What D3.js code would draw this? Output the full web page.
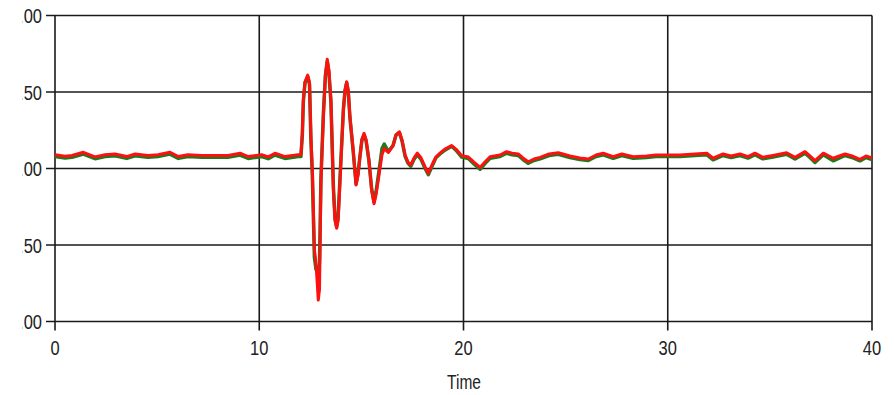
<!DOCTYPE html>
<html>
<head>
<meta charset="utf-8">
<script src="https://cdn.jsdelivr.net/npm/d3@7"></script>
<style>
  body { margin: 0; background: #fff; }
  svg { display: block; }
  text { font-family: "Liberation Sans", Arial, sans-serif; fill: #222; }
</style>
</head>
<body>
<script>
// tick values and labels
var xTicks = [0, 10, 20, 30, 40];
var xTickLabels = ["0", "10", "20", "30", "40"];
var yTicks = [1, 0.5, 0, -0.5, -1];
var yTickLabels = ["1.00", "0.50", "0.00", "-0.50", "-1.00"];

// sample times (s)
var times = [0, 0.49, 0.83, 1.39, 1.96, 2.45, 2.94, 3.51, 3.92, 4.55, 5.04, 5.63, 6.04, 6.51, 7.18, 7.83, 8.47, 9.06, 9.46, 10.12, 10.44, 10.77, 11.26, 11.91, 12.04,
  12.11, 12.16, 12.24, 12.37, 12.46, 12.53, 12.60, 12.70, 12.78, 12.89, 12.95, 13.02, 13.14, 13.24, 13.33, 13.41, 13.51, 13.63, 13.71, 13.79, 13.86, 13.95,
  14.12, 14.20, 14.28, 14.36, 14.44, 14.60, 14.74, 14.84, 14.93, 15.03, 15.13, 15.23, 15.37, 15.50, 15.62, 15.72, 15.91, 16.01, 16.12, 16.32, 16.55, 16.70,
  16.86, 16.99, 17.14, 17.28, 17.42, 17.58, 17.74, 17.92, 18.12, 18.28, 18.46, 18.65, 18.85, 19.09, 19.42, 19.63, 19.91, 20.24, 20.51, 20.81, 21.05, 21.30,
  21.79, 22.11, 22.38, 22.68, 22.91, 23.17, 23.45, 23.75, 24.19, 24.64, 25.21, 25.70, 26.11, 26.49, 26.84, 27.33, 27.75, 28.31, 28.97, 29.42, 29.94, 30.60,
  31.33, 31.91, 32.22, 32.71, 33.10, 33.54, 33.93, 34.27, 34.66, 35.15, 35.82, 36.23, 36.72, 36.96, 37.21, 37.62, 38.10, 38.68, 39.02, 39.41, 39.71, 40.00];

// red series
var redValues = [0.09, 0.08, 0.085, 0.106, 0.076, 0.09, 0.095, 0.078, 0.095, 0.085, 0.09, 0.106, 0.078, 0.09, 0.085, 0.085, 0.085, 0.10, 0.078, 0.09, 0.076, 0.10, 0.078, 0.09, 0.09,
  0.23, 0.45, 0.565, 0.61, 0.565, 0.21, -0.01, -0.53, -0.62, -0.86, -0.79, -0.095, 0.34, 0.61, 0.714, 0.64, 0.45, -0.14, -0.34, -0.39, -0.34, -0.097,
  0.38, 0.51, 0.567, 0.51, 0.34, 0.12, -0.108, -0.04, 0.077, 0.19, 0.23, 0.19, 0.056, -0.14, -0.23, -0.17, 0.0, 0.09, 0.13, 0.105, 0.15, 0.22,
  0.24, 0.186, 0.088, 0.042, 0.023, 0.07, 0.10, 0.07, 0.01, -0.031, 0.023, 0.075, 0.10, 0.127, 0.15, 0.127, 0.084, 0.075, 0.042, 0.007, 0.042, 0.077,
  0.088, 0.11, 0.10, 0.095, 0.069, 0.044, 0.062, 0.073, 0.095, 0.103, 0.082, 0.069, 0.062, 0.088, 0.10, 0.077, 0.095, 0.077, 0.082, 0.088, 0.088, 0.088,
  0.095, 0.10, 0.067, 0.095, 0.082, 0.095, 0.078, 0.10, 0.073, 0.085, 0.103, 0.073, 0.11, 0.082, 0.051, 0.10, 0.067, 0.095, 0.082, 0.06, 0.082, 0.069];

// green series
var greenValues = [0.078, 0.068, 0.073, 0.094, 0.064, 0.078, 0.083, 0.066, 0.083, 0.073, 0.078, 0.094, 0.066, 0.078, 0.073, 0.073, 0.073, 0.088, 0.066, 0.078, 0.064, 0.088, 0.066, 0.078, 0.078,
  0.22, 0.44, 0.56, 0.60, 0.55, 0.18, -0.05, -0.58, -0.66, -0.68, -0.62, -0.06, 0.36, 0.61, 0.70, 0.63, 0.43, -0.12, -0.33, -0.38, -0.32, -0.07,
  0.39, 0.51, 0.56, 0.50, 0.33, 0.11, -0.10, -0.03, 0.08, 0.19, 0.22, 0.18, 0.05, -0.13, -0.22, -0.15, 0.03, 0.13, 0.16, 0.11, 0.15, 0.22,
  0.235, 0.18, 0.08, 0.035, 0.015, 0.06, 0.09, 0.06, 0.0, -0.04, 0.015, 0.07, 0.095, 0.12, 0.145, 0.12, 0.075, 0.065, 0.03, -0.005, 0.032, 0.067,
  0.078, 0.10, 0.09, 0.085, 0.059, 0.034, 0.052, 0.063, 0.085, 0.093, 0.072, 0.059, 0.052, 0.078, 0.09, 0.067, 0.085, 0.067, 0.072, 0.078, 0.078, 0.078,
  0.085, 0.09, 0.057, 0.085, 0.072, 0.085, 0.068, 0.09, 0.063, 0.075, 0.093, 0.063, 0.10, 0.072, 0.04, 0.09, 0.05, 0.085, 0.072, 0.05, 0.072, 0.059];

var W = 894, H = 395;
var plotLeft = 55, plotRight = 872, plotTop = 15.5, plotBottom = 321.5;

var x = d3.scaleLinear().domain([0, 40]).range([plotLeft, plotRight]);
var y = d3.scaleLinear().domain([-1, 1]).range([plotBottom, plotTop]);

var svg = d3.select("body").append("svg")
    .attr("width", W)
    .attr("height", H);

svg.append("defs").append("clipPath")
    .attr("id", "labelclip")
  .append("rect")
    .attr("x", 22).attr("y", 0)
    .attr("width", W - 22).attr("height", H);

// grid
svg.append("g").selectAll("line")
    .data(yTicks)
  .enter().append("line")
    .attr("x1", plotLeft - 9).attr("x2", plotRight)
    .attr("y1", function(d) { return y(d); })
    .attr("y2", function(d) { return y(d); })
    .attr("stroke", "#1a1a1a")
    .attr("stroke-width", 1.6);

svg.append("g").selectAll("line")
    .data(xTicks)
  .enter().append("line")
    .attr("x1", function(d) { return x(d); })
    .attr("x2", function(d) { return x(d); })
    .attr("y1", plotTop).attr("y2", plotBottom + 9)
    .attr("stroke", "#1a1a1a")
    .attr("stroke-width", 1.6);

// tick labels
svg.append("g")
    .attr("clip-path", "url(#labelclip)")
  .selectAll("text")
    .data(yTicks)
  .enter().append("text")
    .attr("transform", function(d) { return "translate(42," + (y(d) + 0.5) + ") scale(1,1.2)"; })
    .attr("text-anchor", "end")
    .attr("dy", "0.36em")
    .style("font-size", "16.5px")
    .text(function(d, i) { return yTickLabels[i]; });

svg.append("g").selectAll("text")
    .data(xTicks)
  .enter().append("text")
    .attr("transform", function(d) { return "translate(" + x(d) + ",347.5) scale(1,1.2)"; })
    .attr("text-anchor", "middle")
    .attr("dy", "0.36em")
    .style("font-size", "16.5px")
    .text(function(d, i) { return xTickLabels[i]; });

svg.append("text")
    .attr("transform", "translate(464,389) scale(1,1.25)")
    .attr("text-anchor", "middle")
    .style("font-size", "15.5px")
    .text("Time");

// series
var line = d3.line()
    .x(function(d) { return x(d[0]); })
    .y(function(d) { return y(d[1]); });

svg.append("path")
    .datum(d3.zip(times, greenValues))
    .attr("fill", "none")
    .attr("stroke", "#1e7a1e")
    .attr("stroke-width", 3.5)
    .attr("stroke-linejoin", "round")
    .attr("d", line);

svg.append("path")
    .datum(d3.zip(times, redValues))
    .attr("fill", "none")
    .attr("stroke", "#ff1010")
    .attr("stroke-width", 3)
    .attr("stroke-linejoin", "round")
    .attr("d", line);
</script>
</body>
</html>
